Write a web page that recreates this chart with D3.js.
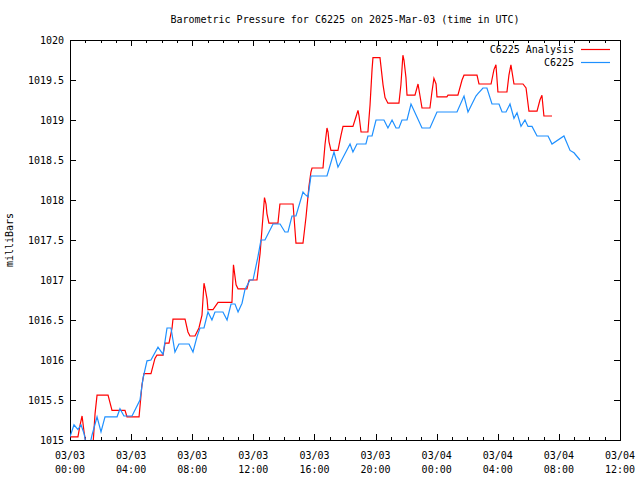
<!DOCTYPE html>
<html><head><meta charset="utf-8">
<script src="https://cdn.jsdelivr.net/npm/d3@7"></script>
<style>
body{margin:0;background:#fff}
text{font-family:"DejaVu Sans Mono",monospace;font-size:10px;fill:#000}
</style>
</head><body>
<svg id="c" width="640" height="480"></svg>
<script>
const chartTitle = "Barometric Pressure for C6225 on 2025-Mar-03 (time in UTC)";
const yAxisTitle = "milliBars";
const seriesNames = ["C6225 Analysis", "C6225"];
const seriesColors = ["#ff0000", "#1e90ff"];
const yTicks = [1015, 1015.5, 1016, 1016.5, 1017, 1017.5, 1018, 1018.5, 1019, 1019.5, 1020];
const yTickLabels = ["1015", "1015.5", "1016", "1016.5", "1017", "1017.5", "1018", "1018.5", "1019", "1019.5", "1020"];
const xMajorHours = [0, 4, 8, 12, 16, 20, 24, 28, 32, 36];
const xTickDates = ["03/03", "03/03", "03/03", "03/03", "03/03", "03/03", "03/04", "03/04", "03/04", "03/04"];
const xTickTimes = ["00:00", "04:00", "08:00", "12:00", "16:00", "20:00", "00:00", "04:00", "08:00", "12:00"];

// hours since 2025-03-03 00:00 UTC
const analysisHours = [0,0.52,0.65,0.79,0.92,1.05,1.51,1.64,1.77,2.49,
2.75,3.60,3.73,4.52,4.71,4.84,5.30,5.56,5.69,6.09,
6.22,6.48,6.68,6.74,7.53,7.72,7.85,8.18,8.44,8.64,
8.77,8.84,8.97,9.03,9.36,9.69,10.60,10.70,10.87,11.00,
11.58,11.72,12.24,12.44,12.63,12.73,12.83,12.89,13.02,13.61,
13.74,14.60,14.79,15.25,15.45,15.64,15.77,15.84,16.56,16.69,
16.82,16.89,16.95,17.08,17.54,17.74,17.87,18.52,18.72,18.85,
18.92,19.05,19.50,19.64,19.77,19.83,20.29,20.49,20.62,20.81,
21.53,21.66,21.79,21.86,21.99,22.06,22.58,22.78,22.91,23.04,
23.56,23.69,23.82,23.96,24.02,24.67,24.74,25.39,25.66,25.79,
26.64,26.77,27.56,27.75,27.88,28.01,28.60,28.73,28.86,29.06,
29.65,29.85,30.04,30.57,30.76,30.89,31.02,31.55];
const analysisValues = [1015.04,1015.04,1015.18,1015.3,1015.1,1014.95,1014.95,1015.33,1015.56,1015.56,
1015.37,1015.37,1015.29,1015.29,1015.69,1015.83,1015.83,1016.02,1016.06,1016.06,
1016.21,1016.21,1016.4,1016.51,1016.51,1016.35,1016.3,1016.3,1016.4,1016.56,
1016.96,1016.9,1016.76,1016.63,1016.63,1016.72,1016.72,1017.19,1016.94,1016.89,
1016.89,1017.0,1017.0,1017.33,1017.79,1018.03,1017.95,1017.83,1017.71,1017.71,
1017.95,1017.95,1017.46,1017.46,1017.79,1018.17,1018.35,1018.4,1018.4,1018.69,
1018.9,1018.85,1018.73,1018.62,1018.62,1018.81,1018.92,1018.92,1019.04,1019.12,
1019.05,1018.85,1018.85,1019.19,1019.63,1019.78,1019.78,1019.44,1019.28,1019.21,
1019.21,1019.44,1019.81,1019.75,1019.53,1019.31,1019.31,1019.45,1019.3,1019.15,
1019.15,1019.35,1019.52,1019.45,1019.29,1019.29,1019.31,1019.31,1019.5,1019.56,
1019.56,1019.45,1019.45,1019.63,1019.69,1019.35,1019.35,1019.56,1019.69,1019.45,
1019.45,1019.4,1019.11,1019.11,1019.25,1019.31,1019.05,1019.05];

const obsHours = [0,0.26,0.52,0.72,0.92,1.11,1.31,1.44,1.57,1.77,
2.03,2.29,3.08,3.27,3.53,4.06,4.58,4.78,5.04,5.30,
5.76,6.09,6.35,6.61,6.87,7.13,7.79,8.05,8.31,8.51,
8.77,9.03,9.29,9.49,10.01,10.28,10.54,10.80,11.0,11.26,
11.45,11.78,11.98,12.3,12.5,12.76,13.29,13.75,14.07,14.27,
14.53,14.79,15.25,15.38,15.58,15.77,16.82,17.28,17.54,18.33,
18.52,18.78,19.37,19.5,19.77,20.03,20.55,20.81,21.08,21.34,
21.53,21.73,22.06,22.32,23.04,23.56,24.02,25.33,25.79,26.05,
26.57,26.7,27.03,27.29,27.62,28.08,28.28,28.54,28.80,29.06,
29.26,29.52,29.78,29.98,30.24,30.57,31.29,31.55,32.33,32.73,
32.99,33.38];
const obsValues = [1015.04,1015.19,1015.13,1015.19,1015.08,1014.9,1014.95,1015.06,1015.15,1015.29,
1015.1,1015.29,1015.29,1015.39,1015.3,1015.3,1015.5,1015.77,1015.99,1016.0,
1016.16,1016.07,1016.4,1016.4,1016.1,1016.2,1016.2,1016.1,1016.29,1016.4,
1016.4,1016.6,1016.5,1016.6,1016.6,1016.5,1016.7,1016.7,1016.6,1016.71,
1016.88,1017.0,1017.0,1017.29,1017.5,1017.5,1017.7,1017.7,1017.6,1017.6,
1017.8,1017.8,1018.1,1018.07,1018.04,1018.3,1018.3,1018.6,1018.41,1018.7,
1018.6,1018.7,1018.7,1018.8,1018.8,1019.0,1019.0,1018.9,1019.0,1018.9,
1018.9,1019.0,1019.0,1019.2,1018.9,1018.9,1019.1,1019.1,1019.3,1019.1,
1019.3,1019.33,1019.4,1019.4,1019.2,1019.2,1019.1,1019.1,1019.2,1019.02,
1019.09,1018.92,1019.0,1018.92,1018.92,1018.8,1018.8,1018.7,1018.8,1018.62,
1018.59,1018.5];

const t0 = Date.UTC(2025, 2, 3, 0, 0);
const toDate = h => new Date(t0 + h * 3600000);

const W = 640, H = 480;
const m = {left: 70, right: 20, top: 40, bottom: 40};
const x = d3.scaleUtc().domain([toDate(0), toDate(36)]).range([m.left, W - m.right]);
const y = d3.scaleLinear().domain([1015, 1020]).range([H - m.bottom, m.top]);

const svg = d3.select("#c");
svg.append("rect").attr("width", W).attr("height", H).attr("fill", "#fff");

svg.append("defs").append("clipPath").attr("id", "clip")
  .append("rect").attr("x", m.left).attr("y", m.top)
  .attr("width", W - m.left - m.right).attr("height", H - m.top - m.bottom);

const hourTicks = d3.range(0, 37).map(toDate);
const majorSet = new Set(xMajorHours.map(h => +toDate(h)));

function styleAxis(g) {
  g.select(".domain").remove();
  g.selectAll("line").attr("stroke", "#000").attr("shape-rendering", "crispEdges");
  g.selectAll("text").remove();
}

// bottom ticks
svg.append("g").attr("transform", `translate(0,${H - m.bottom})`)
  .call(d3.axisBottom(x).tickValues(hourTicks).tickSizeOuter(0).tickFormat(""))
  .call(styleAxis)
  .selectAll(".tick line").attr("y2", d => majorSet.has(+d) ? -6 : -3);
// top ticks
svg.append("g").attr("transform", `translate(0,${m.top})`)
  .call(d3.axisTop(x).tickValues(hourTicks).tickSizeOuter(0).tickFormat(""))
  .call(styleAxis)
  .selectAll(".tick line").attr("y2", d => majorSet.has(+d) ? 6 : 3);
// left ticks
svg.append("g").attr("transform", `translate(${m.left},0)`)
  .call(d3.axisLeft(y).tickValues(yTicks).tickSizeInner(-6).tickSizeOuter(0).tickFormat(""))
  .call(styleAxis);
// right ticks
svg.append("g").attr("transform", `translate(${W - m.right},0)`)
  .call(d3.axisRight(y).tickValues(yTicks).tickSizeInner(-6).tickSizeOuter(0).tickFormat(""))
  .call(styleAxis);

// y labels
svg.append("g").selectAll("text").data(yTicks).join("text")
  .attr("x", m.left - 6).attr("y", d => y(d) + 4)
  .attr("text-anchor", "end").text((d, i) => yTickLabels[i]);

// x labels
const xl = svg.append("g").selectAll("g").data(xMajorHours).join("g")
  .attr("transform", d => `translate(${x(toDate(d))},0)`);
xl.append("text").attr("y", H - m.bottom + 19).attr("text-anchor", "middle").text((d, i) => xTickDates[i]);
xl.append("text").attr("y", H - m.bottom + 33).attr("text-anchor", "middle").text((d, i) => xTickTimes[i]);

// frame
svg.append("rect").attr("x", m.left + 0.5).attr("y", m.top + 0.5)
  .attr("width", W - m.left - m.right).attr("height", H - m.top - m.bottom)
  .attr("fill", "none").attr("stroke", "#000");

// lines
const line = d3.line().x(d => x(toDate(d[0]))).y(d => y(d[1]));
const series = [
  d3.zip(analysisHours, analysisValues),
  d3.zip(obsHours, obsValues)
];
const lg = svg.append("g").attr("clip-path", "url(#clip)");
series.forEach((s, i) => {
  lg.append("path").datum(s).attr("d", line)
    .attr("fill", "none").attr("stroke", seriesColors[i]).attr("stroke-width", 1.2);
});

// title
svg.append("text").attr("x", (m.left + W - m.right) / 2).attr("y", 23)
  .attr("text-anchor", "middle").text(chartTitle);

// y axis title
svg.append("text").attr("transform", `translate(13,${(m.top + H - m.bottom) / 2}) rotate(-90)`)
  .attr("text-anchor", "middle").text(yAxisTitle);

// legend
const leg = svg.append("g").selectAll("g").data(seriesNames).join("g")
  .attr("transform", (d, i) => `translate(0,${49 + i * 13})`);
leg.append("text").attr("x", 574).attr("y", 4).attr("text-anchor", "end").text(d => d);
leg.append("line").attr("x1", 581).attr("x2", 610).attr("y1", 0.5).attr("y2", 0.5)
  .attr("stroke", (d, i) => seriesColors[i]).attr("stroke-width", 1.2);
</script>
</body></html>
